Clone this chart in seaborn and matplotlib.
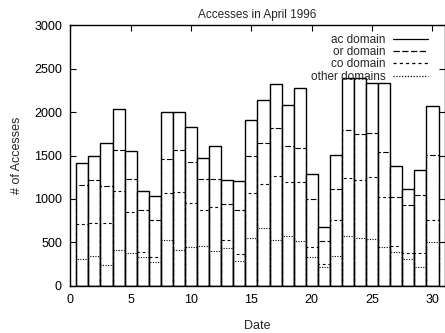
import numpy as np
import matplotlib
matplotlib.use("Agg")
import matplotlib.pyplot as plt
from matplotlib.lines import Line2D
import seaborn as sns

days = np.arange(1, 31)

ac_domain = [257, 283, 495, 477, 326, 215, 275, 535, 437, 404,
             242, 384, 280, 334, 410, 488, 510, 469, 684, 284,
             155, 393, 600, 640, 574, 787, 354, 180, 284, 570]
or_domain = [445, 495, 435, 469, 376, 487, 433, 401, 483, 472,
             357, 326, 412, 507, 429, 472, 546, 413, 390, 557,
             268, 359, 553, 530, 506, 519, 572, 554, 676, 748]
co_domain = [411, 372, 479, 683, 480, 51, 51, 532, 669, 500,
             415, 500, 86, 83, 525, 510, 737, 630, 684, 115,
             38, 415, 661, 674, 712, 576, 67, 66, 154, 250]
other_domains = [304, 348, 238, 411, 373, 334, 276, 532, 411, 449,
                 457, 403, 440, 282, 546, 665, 530, 570, 516, 327,
                 212, 338, 576, 546, 538, 449, 386, 310, 219, 507]

legend_labels = ["ac domain", "or domain", "co domain", "other domains"]
line_styles = ["-", (0, (5, 2)), (0, (2.5, 2.5)), (0, (1, 1.3))]

# gnuplot-like cumulative levels: each line sits on top of the ones below
other_top = np.array(other_domains)
co_top = other_top + np.array(co_domain)
or_top = co_top + np.array(or_domain)
ac_top = or_top + np.array(ac_domain)

sns.set_style("ticks")
plt.rcParams["font.family"] = ["Liberation Sans", "DejaVu Sans"]

fig, ax = plt.subplots(figsize=(4.45, 3.33), dpi=100)
fig.subplots_adjust(left=0.158, right=0.999, top=0.924, bottom=0.142)

sns.barplot(x=days, y=ac_top, native_scale=True, orient="x", width=1,
            color="white", saturation=1, edgecolor="black", linewidth=1.0,
            errorbar=None, ax=ax)
for level, ls in zip([or_top, co_top, other_top], line_styles[1:]):
    sns.barplot(x=days, y=level, native_scale=True, orient="x", width=1,
                fill=False, color="black", linewidth=0.8, linestyle=ls,
                errorbar=None, ax=ax)

ax.set_xlim(0, 31)
ax.set_ylim(0, 3000)
ax.set_xticks(np.arange(0, 31, 5))
ax.set_yticks(np.arange(0, 3001, 500))
ax.tick_params(direction="in", length=4, width=0.8, top=True, right=True,
               labelsize=9, pad=6, colors="black")
for side in ax.spines.values():
    side.set_linewidth(1.0)
    side.set_color("black")

ax.set_title("Accesses in April 1996", fontsize=8.5, pad=5)
ax.set_xlabel("Date", fontsize=9, labelpad=10)
ax.set_ylabel("# of Accesses", fontsize=9, labelpad=8)

handles = [Line2D([], [], color="black", linewidth=0.9, linestyle=ls)
           for ls in line_styles]
ax.legend(handles, legend_labels, loc="upper right",
          bbox_to_anchor=(0.956, 0.968), frameon=False, markerfirst=False,
          fontsize=8.5, handlelength=3.0, handletextpad=0.6,
          labelspacing=0.03, borderpad=0, borderaxespad=0)

fig.savefig("out.png", dpi=100)
plt.close(fig)
